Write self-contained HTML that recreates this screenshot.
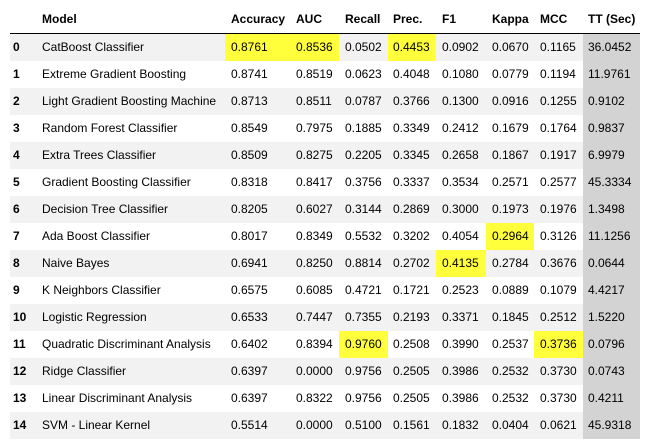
<!DOCTYPE html>
<html><head><meta charset="utf-8"><style>
body{margin:0;width:649px;height:448px;background:#fff;font-family:"Liberation Sans",Arial,sans-serif;font-size:12px;color:#000;position:relative;overflow:hidden}
.c{position:absolute;height:27px;line-height:27px;white-space:nowrap}
.h{font-weight:bold;top:9px;height:20px;line-height:20px}
.row{position:absolute;left:10px;width:630px;height:27px}
</style></head><body>
<div id="t"></div>
<script>
const headers=["Model","Accuracy","AUC","Recall","Prec.","F1","Kappa","MCC","TT (Sec)"];
const models=["CatBoost Classifier","Extreme Gradient Boosting","Light Gradient Boosting Machine","Random Forest Classifier","Extra Trees Classifier","Gradient Boosting Classifier","Decision Tree Classifier","Ada Boost Classifier","Naive Bayes","K Neighbors Classifier","Logistic Regression","Quadratic Discriminant Analysis","Ridge Classifier","Linear Discriminant Analysis","SVM - Linear Kernel"];
const values=[
["0.8761","0.8536","0.0502","0.4453","0.0902","0.0670","0.1165","36.0452"],
["0.8741","0.8519","0.0623","0.4048","0.1080","0.0779","0.1194","11.9761"],
["0.8713","0.8511","0.0787","0.3766","0.1300","0.0916","0.1255","0.9102"],
["0.8549","0.7975","0.1885","0.3349","0.2412","0.1679","0.1764","0.9837"],
["0.8509","0.8275","0.2205","0.3345","0.2658","0.1867","0.1917","6.9979"],
["0.8318","0.8417","0.3756","0.3337","0.3534","0.2571","0.2577","45.3334"],
["0.8205","0.6027","0.3144","0.2869","0.3000","0.1973","0.1976","1.3498"],
["0.8017","0.8349","0.5532","0.3202","0.4054","0.2964","0.3126","11.1256"],
["0.6941","0.8250","0.8814","0.2702","0.4135","0.2784","0.3676","0.0644"],
["0.6575","0.6085","0.4721","0.1721","0.2523","0.0889","0.1079","4.4217"],
["0.6533","0.7447","0.7355","0.2193","0.3371","0.1845","0.2512","1.5220"],
["0.6402","0.8394","0.9760","0.2508","0.3990","0.2537","0.3736","0.0796"],
["0.6397","0.0000","0.9756","0.2505","0.3986","0.2532","0.3730","0.0743"],
["0.6397","0.8322","0.9756","0.2505","0.3986","0.2532","0.3730","0.4211"],
["0.5514","0.0000","0.5100","0.1561","0.1832","0.0404","0.0621","45.9318"]];
const colX=[42,231,296,345,393,442,492,540,588];
const cellL=[38,225,290,339,388,436,486,534,583];
const cellR=[225,290,339,388,436,486,534,583,640];
const t=document.getElementById('t');
let html='';
headers.forEach((h,i)=>{html+=`<div class="c h" style="left:${colX[i]}px">${h}</div>`;});
html+=`<div style="position:absolute;left:10px;top:33px;width:630px;height:1px;background:#000"></div>`;
models.forEach((m,r)=>{
 const top=34+r*27;
 html+=`<div class="row" style="top:${top}px;background:${r%2==0?'#f2f2f2':'#fff'}"></div>`;
 html+=`<div class="c" style="left:13px;top:${top}px;font-weight:bold">${r}</div>`;
 html+=`<div class="c" style="left:42px;top:${top}px">${m}</div>`;
 values[r].forEach((v,j)=>{
  let col=j+1, bg='';
  if(col==8) bg='#d3d3d3';
  else { let best=Math.max(...values.map(x=>parseFloat(x[j]))); if(parseFloat(v)==best && values.findIndex(x=>parseFloat(x[j])==best)==r) bg='#ffff3b'; }
  if(bg) html+=`<div style="position:absolute;left:${cellL[col]}px;width:${cellR[col]-cellL[col]}px;top:${top}px;height:27px;background:${bg}"></div>`;
  html+=`<div class="c" style="left:${colX[col]}px;top:${top}px">${v}</div>`;
 });
});
t.innerHTML=html;
</script>
</body></html>
